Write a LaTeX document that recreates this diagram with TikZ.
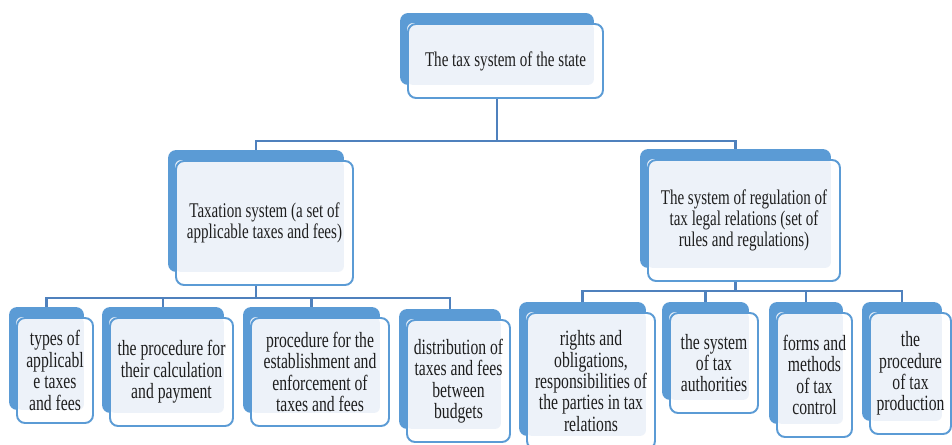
\documentclass[tikz,border=0pt]{standalone}
\usepackage{fontspec}
\setmainfont{Liberation Serif}[FakeStretch=0.72]
\usetikzlibrary{calc,backgrounds}

\definecolor{sablue}{HTML}{5B9BD5}
\definecolor{saline}{HTML}{4F81BD}
\definecolor{sapale}{HTML}{EDF2F9}
\definecolor{satext}{HTML}{1E1E1E}

\begin{document}
\begin{tikzpicture}[x=0.02cm, y=-0.02cm,
    box/.style = {draw=sablue, line width=1.1pt, rounded corners=0.16cm, align=center, inner sep=0pt, text=satext},
    upper/.style = {box, font=\fontsize{11.9}{10.6}\selectfont},
    lower/.style = {box, font=\fontsize{12.4}{12.2}\selectfont},
    conn/.style = {draw=saline, line width=1.2pt}]

    \useasboundingbox (0,0) rectangle (952,445);

    % top
    \node[upper, minimum width=3.9cm, minimum height=1.48cm] (state) at (505.5,61) {The tax system of the state};

    % second row
    \node[upper, minimum width=3.54cm, minimum height=2.48cm] (taxation) at (264.5,223) {Taxation system (a set of\\applicable taxes and fees)};
    \node[upper, minimum width=3.84cm, minimum height=2.42cm] (regulation) at (744,220.5) {The system of regulation of\\tax legal relations (set of\\rules and regulations)};

    % third row, left
    \node[lower, minimum width=1.52cm, minimum height=2.10cm] (types) at (55,370.5) {types of\\applicabl\\e taxes\\and fees};
    \node[lower, minimum width=2.46cm, minimum height=2.16cm] (payment) at (171.5,372) {the procedure for\\their calculation\\and payment};
    \node[lower, minimum width=2.76cm, minimum height=2.16cm] (enforcement) at (320,372) {procedure for the\\establishment and\\enforcement of\\taxes and fees};
    \node[lower, minimum width=2.06cm, minimum height=2.44cm] (distribution) at (458.5,381) {distribution of\\taxes and fees\\between\\budgets};

    % third row, right
    \node[lower, minimum width=2.56cm, minimum height=2.72cm] (rights) at (591,381) {rights and\\obligations,\\responsibilities of\\the parties in tax\\relations};
    \node[lower, minimum width=1.76cm, minimum height=2.00cm] (authorities) at (714,363) {the system\\of tax\\authorities};
    \node[lower, minimum width=1.50cm, minimum height=2.48cm] (control) at (814.5,375) {forms and\\methods\\of tax\\control};
    \node[lower, minimum width=1.62cm, minimum height=2.42cm] (production) at (910.5,373.5) {the\\procedure\\of tax\\production};

    \begin{scope}[on background layer]
    % connectors
    \draw[conn] ([xshift=-0.17cm]state.south) -- ++(0,42) -| ([xshift=-0.17cm]taxation.north);
    \draw[conn] ([xshift=-0.17cm]state.south) -- ++(0,42) -| ([xshift=-0.17cm]regulation.north);

    \draw[conn] ([xshift=-0.17cm]taxation.south) -- ++(0,12) -| ([xshift=-0.17cm]types.north);
    \draw[conn] ([xshift=-0.17cm]taxation.south) -- ++(0,12) -| ([xshift=-0.17cm]payment.north);
    \draw[conn] ([xshift=-0.17cm]taxation.south) -- ++(0,12) -| ([xshift=-0.17cm]enforcement.north);
    \draw[conn] ([xshift=-0.17cm]taxation.south) -- ++(0,12) -| ([xshift=-0.17cm]distribution.north);

    \draw[conn] ([xshift=-0.17cm]regulation.south) -- ++(0,9) -| ([xshift=-0.17cm]rights.north);
    \draw[conn] ([xshift=-0.17cm]regulation.south) -- ++(0,9) -| ([xshift=-0.17cm]authorities.north);
    \draw[conn] ([xshift=-0.17cm]regulation.south) -- ++(0,9) -| ([xshift=-0.17cm]control.north);
    \draw[conn] ([xshift=-0.17cm]regulation.south) -- ++(0,9) -| ([xshift=-0.17cm]production.north);

    % shadows and fills
    \foreach \n in {state,taxation,regulation,types,payment,enforcement,distribution,rights,authorities,control,production}{
        \fill[sablue, rounded corners=0.16cm] ($(\n.north west)+(-7,-10)$) rectangle ($(\n.south east)+(-10,-14)$);
        \fill[white, rounded corners=0.16cm] (\n.north west) rectangle (\n.south east);
        \fill[sapale, rounded corners=0.12cm] (\n.north west) rectangle ($(\n.south east)+(-10,-14)$);
    }
    \end{scope}

\end{tikzpicture}
\end{document}
